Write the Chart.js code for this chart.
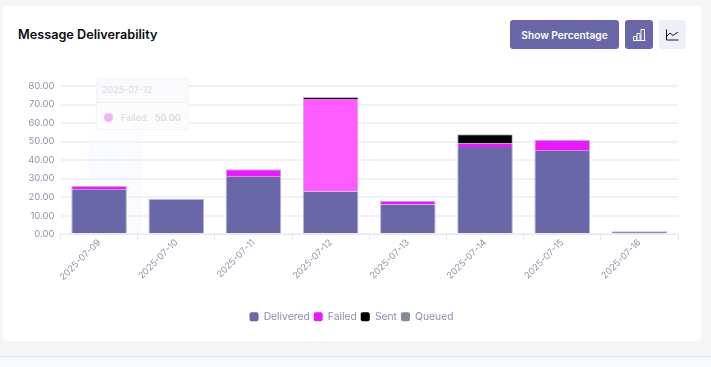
<!DOCTYPE html>
<html>
<head>
<meta charset="utf-8">
<title>Message Deliverability</title>
<script src="https://cdn.jsdelivr.net/npm/chart.js@4/dist/chart.umd.min.js"></script>
<style>
  html, body { margin: 0; padding: 0; width: 711px; height: 367px; overflow: hidden; background: #f6f6f7; font-family: Inter, "Noto Sans", sans-serif; }
  .card { position: absolute; left: 3px; top: 6px; width: 698px; height: 335px; background: #fff; border-radius: 5px; }
  .footer { position: absolute; left: 0; top: 356px; width: 711px; height: 11px; background: #f6fafc; border-top: 1px solid #e3e3ee; box-sizing: border-box; }
  .title { position: absolute; left: 18px; top: 26px; font-size: 12.7px; font-weight: 600; color: #0c0c14; line-height: 17px; }
  .btn { position: absolute; top: 20px; height: 29px; border-radius: 3px; background: #6a67a8; color: #fff; display: flex; align-items: center; justify-content: center; }
  #pct { left: 510px; width: 109px; font-size: 10.2px; font-weight: 600; }
  #barBtn { left: 625px; width: 28px; }
  #lineBtn { left: 659px; width: 27px; background: #eef0f9; }
  #chartWrap { position: absolute; left: 0; top: 70px; width: 703px; height: 262px; }
  #band { position: absolute; left: 89px; top: 100px; width: 53px; height: 134px; background: linear-gradient(#fbfcfe00, #fafbfe 40%, #fafbfe); }
  #tip { position: absolute; left: 96px; top: 78px; width: 93px; height: 52px; box-sizing: border-box; border: 1px solid #f3f3f8; border-radius: 3px; background: #fcfcfd; color: #d9d9e0; font-size: 9px; }
  #tip .head { height: 23px; line-height: 21px; padding-left: 5px; border-bottom: 1px solid #f1f1f5; background: #fafafc; }
  #tip .row { display: flex; align-items: center; height: 28px; padding-left: 7px; }
  #tip .dot { width: 9px; height: 9px; border-radius: 50%; background: #f3b3f8; margin-right: 8px; }
  #tip b { margin-left: 6px; font-weight: 600; }
</style>
</head>
<body>
<div class="card"></div>
<div class="footer"></div>
<div id="band"></div>
<div id="chartWrap"><canvas id="chartCanvas"></canvas></div>
<div id="tip">
  <div class="head">2025-07-12</div>
  <div class="row"><span class="dot"></span>Failed: <b>50.00</b></div>
</div>
<div class="title">Message Deliverability</div>
<div class="btn" id="pct">Show Percentage</div>
<div class="btn" id="barBtn">
  <svg width="14" height="13" viewBox="0 0 14 13" fill="none" stroke="#fff" stroke-width="1"><path d="M1 12.5H13.5M1.5 12.5V8.5H4.5V12.5M5 12.5V5.5H8V12.5M9 12.5V1.5H12.5V12.5"/></svg>
</div>
<div class="btn" id="lineBtn">
  <svg width="13" height="12" viewBox="0 0 13 12" fill="none" stroke="#15152a" stroke-width="1"><path d="M.5 .5V11H12.5M1 7L4 4L7 6.5L12 3"/></svg>
</div>
<script>
const categories = ['2025-07-09', '2025-07-10', '2025-07-11', '2025-07-12', '2025-07-13', '2025-07-14', '2025-07-15', '2025-07-16'];
const delivered = [24, 19, 31, 23, 16, 47, 45, 1];
const failed = [2, 0, 4, 50, 2, 2, 6, 0];
const sent = [0, 0, 0, 1, 0, 5, 0, 0];
const queued = [0, 0, 0, 0, 0, 0, 0, 0];
const yMax = 80;
const yStep = 10;

const failedColor = '#e81cfb';
const failedHover = '#ff5cff'; // the 07-12 bar is hovered in the screenshot
const failedColors = categories.map((c) => c === '2025-07-12' ? failedHover : failedColor);

// empty segments get no edge, and only the topmost segment gets the pale top edge
function edgeWidth(ctx) {
  if (!ctx.raw) return 0;
  const above = ctx.chart.data.datasets.slice(ctx.datasetIndex + 1).some((ds) => ds.data[ctx.dataIndex] > 0);
  return { left: 1, right: 1, bottom: 0, top: above ? 0 : 1 };
}

function makeSet(label, data, color) {
  return {
    label: label,
    data: data,
    backgroundColor: color,
    borderColor: '#b4b3d8',
    borderWidth: edgeWidth,
    borderSkipped: false,
    stack: 'a',
    categoryPercentage: 0.72,
    barPercentage: 1,
  };
}

// the page centres the legend on the card, not on the plot area
const legendShift = {
  id: 'legendShift',
  afterLayout: (chart) => {
    chart.legend.left += 12.5;
    chart.legend.right += 12.5;
  },
};

const deliveredSet = makeSet('Delivered', delivered, '#6a67a8');
deliveredSet.minBarLength = 3; // keeps the 07-16 bar dark under its edge

new Chart('chartCanvas', {
  type: 'bar',
  plugins: [legendShift],
  data: {
    labels: categories,
    datasets: [
      deliveredSet,
      makeSet('Failed', failed, failedColors),
      makeSet('Sent', sent, '#000000'),
      makeSet('Queued', queued, '#858a9b'),
    ],
  },
  options: {
    responsive: true,
    maintainAspectRatio: false,
    animation: false,
    layout: { padding: { top: 16, right: 25, bottom: 0, left: 0 } },
    plugins: {
      tooltip: { enabled: false },
      legend: {
        position: 'bottom',
        labels: {
          boxWidth: 9,
          boxHeight: 9,
          padding: 4,
          color: '#8b8fae',
          font: { family: 'Inter', size: 10.3 },
          generateLabels: (chart) => chart.data.datasets.map((ds, i) => ({
            text: ds.label,
            fillStyle: i === 1 ? failedColor : ds.backgroundColor,
            strokeStyle: 'transparent',
            fontColor: '#8b8fae',
            lineWidth: 0,
            borderRadius: 2,
            datasetIndex: i,
          })),
        },
      },
    },
    scales: {
      x: {
        stacked: true,
        offset: true,
        afterFit: (scale) => { scale.height += 28; },
        border: { color: '#e6e8f3', width: 1 },
        grid: { drawOnChartArea: false, drawTicks: true, tickLength: 6, tickColor: '#e6e8f3', offset: true },
        ticks: { color: '#8f92a6', font: { family: 'Inter', size: 9.2 }, maxRotation: 45, minRotation: 45, padding: -3 },
      },
      y: {
        stacked: true,
        min: 0,
        max: yMax,
        afterFit: (scale) => { scale.width = 60.5; },
        border: { display: false },
        grid: { color: '#f1f2f9', lineWidth: 2, drawTicks: false },
        ticks: {
          stepSize: yStep,
          padding: 6,
          color: '#8f92a6',
          font: { family: 'Inter', size: 9.5 },
          callback: (v) => Number(v).toFixed(2),
        },
      },
    },
  },
});
</script>
</body>
</html>
